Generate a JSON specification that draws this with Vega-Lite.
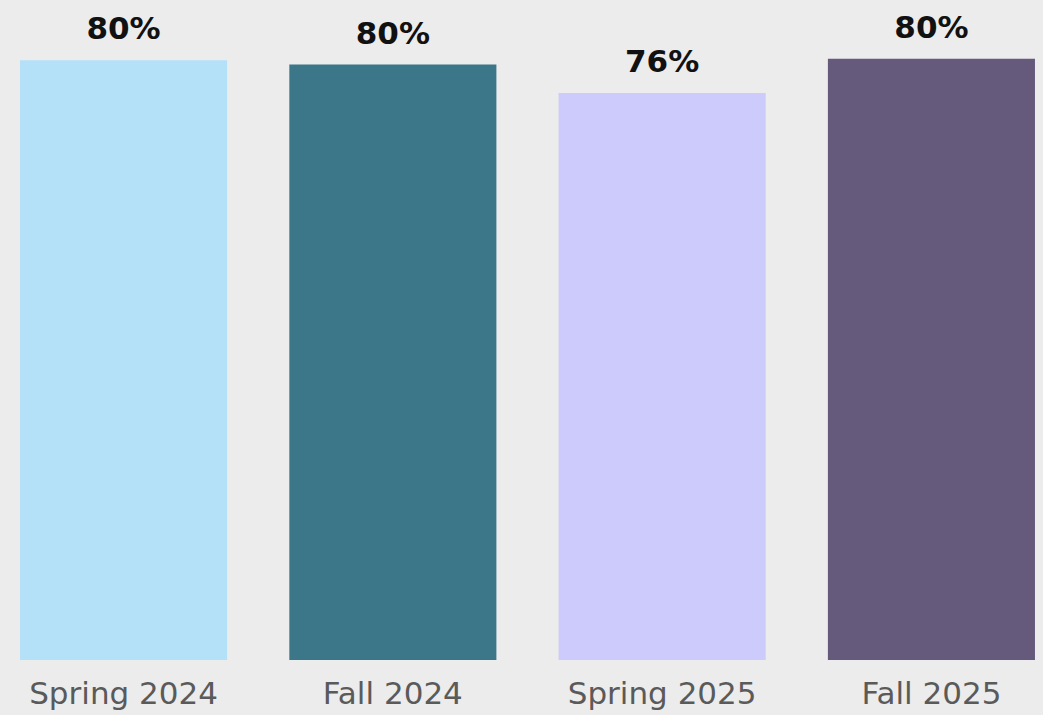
{
  "$schema": "https://vega.github.io/schema/vega-lite/v6.json",
  "width": 1043,
  "height": 660,
  "autosize": {"type": "none"},
  "padding": {"left": 0, "top": 0, "right": 0, "bottom": 55},
  "background": "#ececec",
  "config": {"view": {"stroke": null}},
  "data": {
    "values": [
      {"term": "Spring 2024", "value": 80.3, "label": "80%", "color": "#b4e0f8"},
      {"term": "Fall 2024", "value": 79.7, "label": "80%", "color": "#3c7689"},
      {"term": "Spring 2025", "value": 75.9, "label": "76%", "color": "#cdcbfb"},
      {"term": "Fall 2025", "value": 80.5, "label": "80%", "color": "#65597c"}
    ]
  },
  "encoding": {
    "x": {
      "field": "term",
      "type": "nominal",
      "sort": null,
      "scale": {"range": [-6.9, 1061.9], "paddingInner": 0.231, "paddingOuter": 0.1},
      "axis": {
        "title": null,
        "domain": false,
        "ticks": false,
        "tickSize": 0,
        "labelAngle": 0,
        "labelFont": "DejaVu Sans",
        "labelFontSize": 31,
        "labelColor": "#5a5a5a",
        "labelBaseline": "alphabetic",
        "labelPadding": 43,
        "labelLimit": 0
      }
    },
    "y": {
      "field": "value",
      "type": "quantitative",
      "scale": {"domain": [0, 88.35], "nice": false},
      "axis": null
    }
  },
  "layer": [
    {
      "mark": {"type": "bar"},
      "encoding": {
        "color": {"field": "color", "type": "nominal", "scale": null, "legend": null}
      }
    },
    {
      "mark": {
        "type": "text",
        "dy": -21,
        "baseline": "alphabetic",
        "align": "center",
        "font": "DejaVu Sans",
        "fontWeight": "bold",
        "fontSize": 31,
        "color": "#111111"
      },
      "encoding": {"text": {"field": "label", "type": "nominal"}}
    }
  ]
}
